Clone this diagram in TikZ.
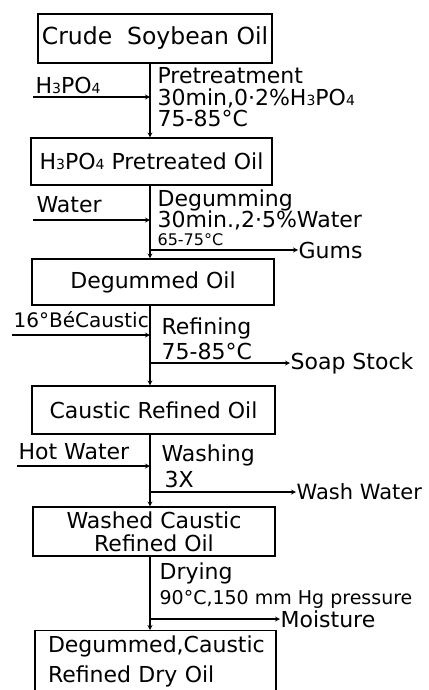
\documentclass[tikz,border=0pt]{standalone}
\usepackage{fontspec}
\setmainfont{DejaVu Sans}
\usetikzlibrary{arrows.meta}

\newcommand{\chsub}[1]{{\fontsize{14}{14}\selectfont #1}}

\begin{document}
\begin{tikzpicture}[>=stealth, line width=1.2pt, x=1pt, y=-1pt,
    every node/.style={font=\fontsize{22}{22}\selectfont, inner sep=0pt},
    oilbox/.style={draw, align=center},
    stepnote/.style={anchor=north west, align=left, font=\fontsize{22}{22}\selectfont},
    feed/.style={anchor=west},
    waste/.style={anchor=west}]
    \useasboundingbox (0,0) rectangle (428,690);
    \clip (0,0) rectangle (428,690);

    % ------------------ 主线 ------------------
    \coordinate (sp) at (150,0);

    % ------------------ 油品框 ------------------
    \node[oilbox, minimum width=234pt, minimum height=49pt, font=\fontsize{23.5}{23.5}\selectfont] (crude) at (155,38.5) {Crude\ \ Soybean Oil};
    \node[oilbox, minimum width=241pt, minimum height=47pt] (pretr) at (151.5,161.5) {H\chsub{3}PO\chsub{4} Pretreated Oil};
    \node[oilbox, minimum width=242pt, minimum height=46pt] (degum) at (153,282) {Degummed Oil};
    \node[oilbox, minimum width=243pt, minimum height=48pt] (caust) at (153.5,410) {Caustic Refined Oil};
    \node[oilbox, minimum width=242pt, minimum height=49pt, font=\fontsize{22}{23}\selectfont] (washd) at (154,531.5) {Washed Caustic\\Refined Oil};
    \node[oilbox, minimum width=241pt, minimum height=62pt, anchor=north, align=left, text width=215pt,
          font=\fontsize{22}{30}\selectfont] (dryoil) at (155.5,630) {Degummed,Caustic\\Refined Dry Oil};

    % ------------------ 工序说明 ------------------
    \node[stepnote] (s1) at (157,67) {Pretreatment\\30min,0·2\%H\chsub{3}PO\chsub{4}\\[-1pt]75-85°C};
    \node[stepnote] (s2) at (157,189) {Degumming\\[-1pt]30min.,2·5\%Water\\[-4pt]{\fontsize{16}{16}\selectfont 65-75°C}};
    \node[stepnote] (s3) at (161,317) {Refining\\[3pt]75-85°C};
    \node[stepnote] (s4) at (161,444) {Washing\\[4pt]\hspace{3pt}3X};
    \node[stepnote] (s5) at (159,562) {Drying\\[3pt]{\fontsize{19}{19}\selectfont 90°C,150 mm Hg pressure}};

    % ------------------ 加入物 ------------------
    \node[feed] (acid) at (35,85) {H\chsub{3}PO\chsub{4}};
    \node[feed] (water) at (36,205) {Water};
    \node[feed, font=\fontsize{20}{20}\selectfont] (lye) at (13,320) {16°BéCaustic};
    \node[feed] (hotw) at (18,452) {Hot Water};
    \coordinate (f1) at (33,97);
    \coordinate (f2) at (33,220);
    \coordinate (f3) at (12,335);
    \coordinate (f4) at (17,466);
    \draw[->] (f1) -- (f1 -| sp);
    \draw[->] (f2) -- (f2 -| sp);
    \draw[->] (f3) -- (f3 -| sp);
    \draw[->] (f4) -- (f4 -| sp);

    % ------------------ 排出物 ------------------
    \node[waste] (gums) at (298,250) {Gums};
    \node[waste] (soap) at (290,363) {Soap Stock};
    \node[waste, font=\fontsize{21}{21}\selectfont] (wash) at (296,492) {Wash Water};
    \node[waste] (moist) at (280,619) {Moisture};
    \draw[->] (gums.west -| sp) -- (gums.west);
    \draw[->] (soap.west -| sp) -- (soap.west);
    \draw[->] (wash.west -| sp) -- (wash.west);
    \draw[->] (moist.west -| sp) -- (moist.west);

    % ------------------ 主流程 ------------------
    \draw[->] (crude.south -| sp) -- (pretr.north -| sp);
    \draw[->] (pretr.south -| sp) -- (degum.north -| sp);
    \draw[->] (degum.south -| sp) -- (caust.north -| sp);
    \draw[->] (caust.south -| sp) -- (washd.north -| sp);
    \draw[->] (washd.south -| sp) -- (dryoil.north -| sp);
\end{tikzpicture}
\end{document}
